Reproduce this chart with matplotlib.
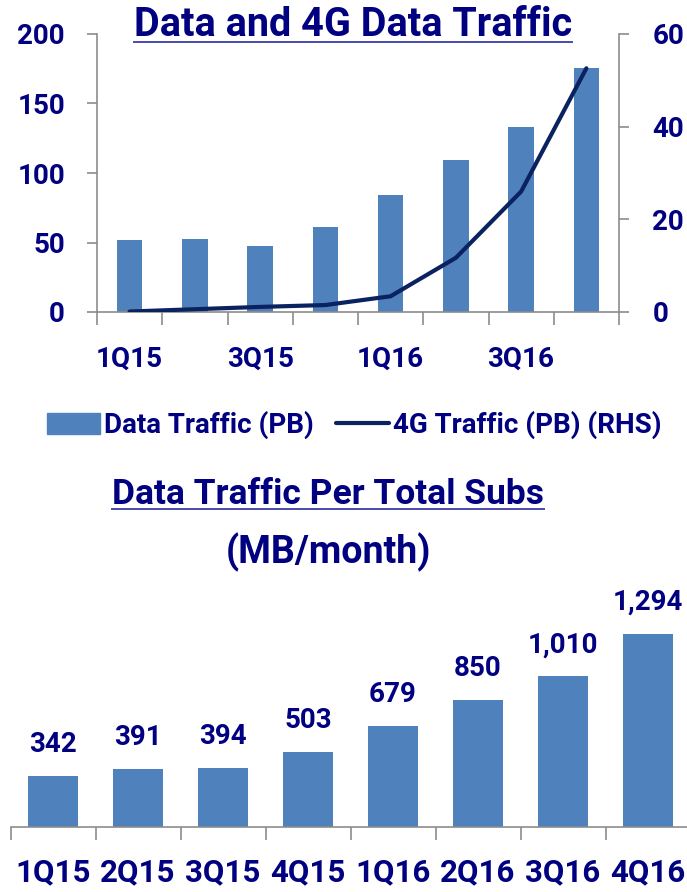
import matplotlib
matplotlib.use("Agg")
import matplotlib.pyplot as plt
from matplotlib.patches import Patch
from matplotlib.lines import Line2D

plt.rcParams["font.family"] = ["Roboto", "DejaVu Sans"]
plt.rcParams["font.weight"] = "bold"

NAVY = "#000080"
BAR = "#4F81BD"
LINE = "#0A2260"
GREY = "#8C8C8C"
ULINE = "#4A4AB0"

quarters = ["1Q15", "2Q15", "3Q15", "4Q15", "1Q16", "2Q16", "3Q16", "4Q16"]
data_pb = [52, 52.6, 47.4, 61.5, 84, 109, 133, 175.7]
lte_pb = [0.1, 0.6, 1.1, 1.5, 3.4, 11.7, 26.0, 52.6]
mb_month = [342, 391, 394, 503, 679, 850, 1010, 1294]

W, H = 687, 892
fig = plt.figure(figsize=(W / 100, H / 100), dpi=100)


def title_text(x, y, s, size, ul=True):
    t = fig.text(x / W, 1 - y / H, s, ha="center", va="center",
                 fontsize=size, color=NAVY, fontweight="bold")
    if ul:
        fig.canvas.draw()
        bb = t.get_window_extent().transformed(fig.transFigure.inverted())
        fig.add_artist(Line2D([bb.x0, bb.x1], [bb.y0 + 0.002, bb.y0 + 0.002],
                              transform=fig.transFigure, color=ULINE, lw=1.4))
    return t


# ---- top: data traffic + 4G line
ax = fig.add_axes([97 / W, 1 - 312 / H, 522 / W, 278 / H])
x = list(range(len(quarters)))
ax.bar(x, data_pb, width=0.39, color=BAR, zorder=2)
ax.set_xlim(-0.5, 7.5)
ax.set_ylim(0, 200)
ax.set_yticks([0, 50, 100, 150, 200])
ax.set_xticks([0, 2, 4, 6])
ax.set_xticklabels([quarters[i] for i in (0, 2, 4, 6)])
ax.set_xticks([i - 0.5 for i in range(9)], minor=True)
ax.tick_params(axis="x", which="major", length=0, pad=24, labelsize=20, labelcolor=NAVY)
ax.tick_params(axis="x", which="minor", length=9, width=1.2, color=GREY)
ax.tick_params(axis="y", length=7, width=1.2, color=GREY, labelsize=20,
               labelcolor=NAVY, pad=16)
for s in ("top", "right"):
    ax.spines[s].set_visible(False)
for s in ("left", "bottom"):
    ax.spines[s].set_color(GREY)
    ax.spines[s].set_linewidth(1.2)

ax2 = ax.twinx()
ax2.plot(x, lte_pb, color=LINE, lw=3, solid_capstyle="round", zorder=3)
ax2.set_ylim(0, 60)
ax2.set_yticks([0, 20, 40, 60])
ax2.tick_params(axis="y", length=7, width=1.2, color=GREY, labelsize=20,
                labelcolor=NAVY, pad=17)
for s in ("top", "left", "bottom"):
    ax2.spines[s].set_visible(False)
ax2.spines["right"].set_color(GREY)
ax2.spines["right"].set_linewidth(1.2)

for lab in ax.get_xticklabels() + ax.get_yticklabels() + ax2.get_yticklabels():
    lab.set_fontweight("bold")

handles = [Patch(color=BAR), Line2D([], [], color=LINE, lw=3, solid_capstyle="round")]
fig.legend(handles, ["Data Traffic (PB)", "4G Traffic (PB) (RHS)"],
           loc="center", bbox_to_anchor=(354 / W, 1 - 425 / H), ncol=2,
           frameon=False, handlelength=1.9, handleheight=0.8, handletextpad=0.15,
           columnspacing=0.8, prop={"size": 20, "weight": "bold"}, labelcolor=NAVY)

title_text(353, 25, "Data and 4G Data Traffic", 28.5)
title_text(328, 494, "Data Traffic Per Total Subs", 25.5)
title_text(328, 552, "(MB/month)", 27, ul=False)

# ---- bottom: MB per sub
bx = fig.add_axes([10.5 / W, 1 - 827 / H, 680 / W, 223.8 / H])
bx.bar(x, mb_month, width=0.58, color=BAR)
bx.set_xlim(-0.5, 7.5)
bx.set_ylim(0, 1500)
bx.set_yticks([])
bx.set_xticks(x)
bx.set_xticklabels(quarters)
bx.set_xticks([i - 0.5 for i in range(9)], minor=True)
bx.tick_params(axis="x", which="major", length=0, pad=22, labelsize=22.5, labelcolor=NAVY)
bx.tick_params(axis="x", which="minor", length=9, width=1.2, color=GREY)
for lab in bx.get_xticklabels():
    lab.set_fontweight("bold")
for s in ("top", "right", "left"):
    bx.spines[s].set_visible(False)
bx.spines["bottom"].set_color(GREY)
bx.spines["bottom"].set_linewidth(1.2)
for i, v in enumerate(mb_month):
    bx.annotate(f"{v:,}", (i, v), textcoords="offset points", xytext=(0, 13),
                ha="center", va="bottom", fontsize=20, fontweight="bold", color=NAVY)

fig.savefig("out.png", dpi=100)
